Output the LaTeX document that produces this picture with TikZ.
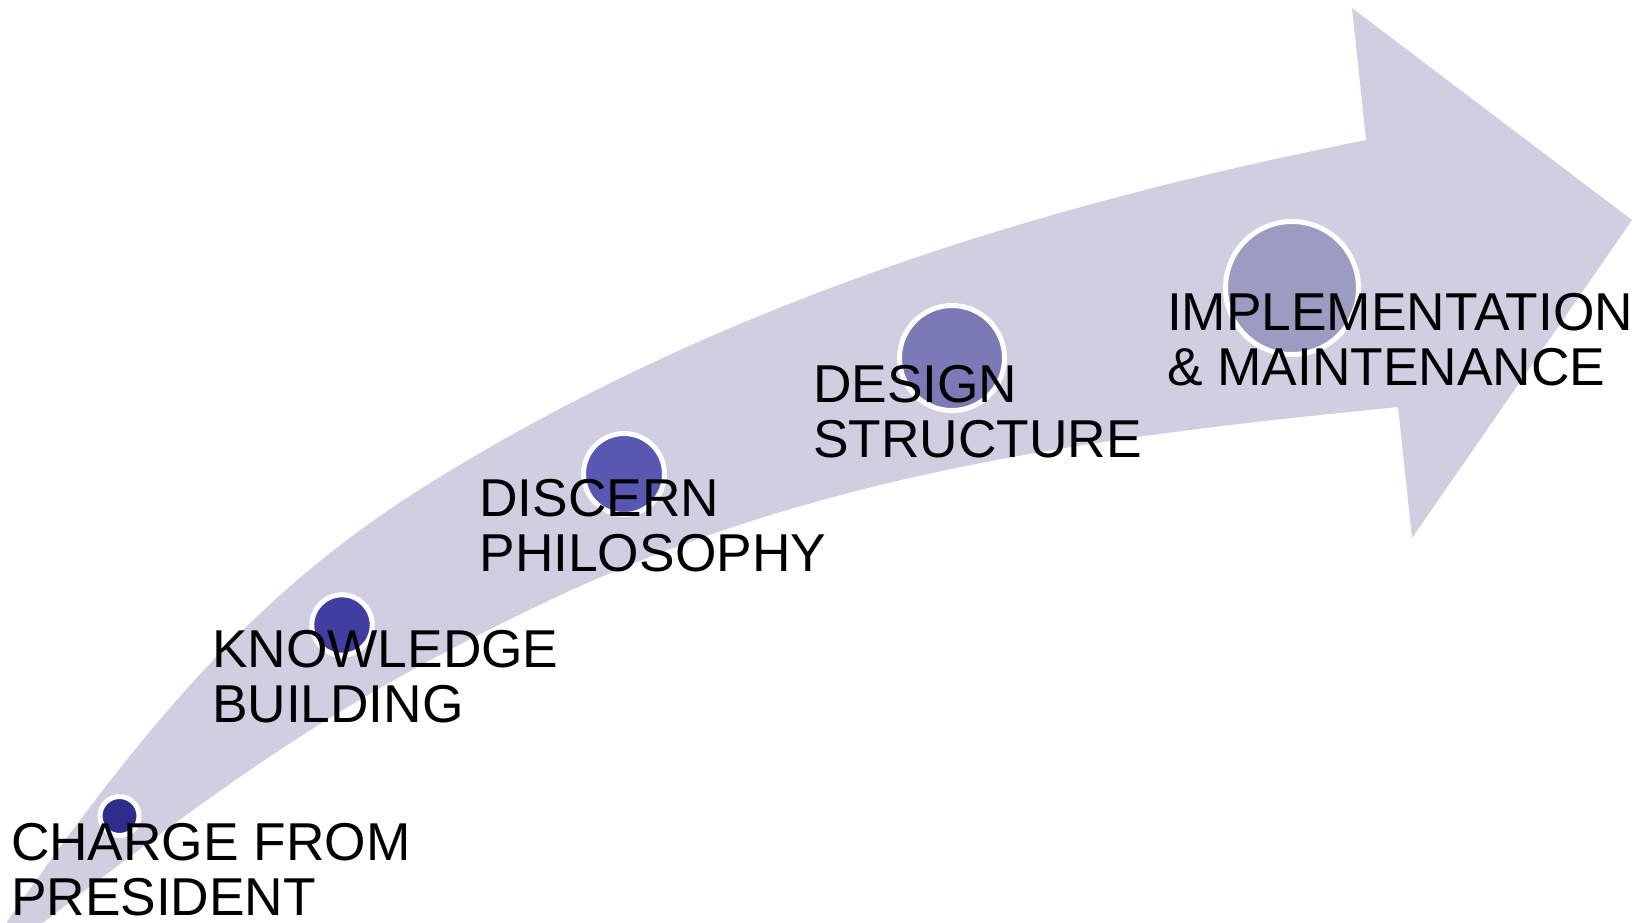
\documentclass[tikz,border=0pt]{standalone}
\usepackage{fontspec}
\setmainfont{Liberation Sans}
\definecolor{arrowc}{RGB}{207,207,225}
\definecolor{dotA}{RGB}{46,45,139}
\definecolor{dotB}{RGB}{64,62,160}
\definecolor{dotC}{RGB}{88,87,177}
\definecolor{dotD}{RGB}{123,122,182}
\definecolor{dotE}{RGB}{156,155,193}
\tikzset{
  dot/.style={circle, draw=white, line width=5pt, inner sep=0pt, outer sep=0pt},
  lbl/.style={anchor=north west, inner sep=0pt, outer sep=0pt, align=left,
    font=\fontsize{53.3}{55}\selectfont, text=black}
}
\begin{document}
\begin{tikzpicture}[x=1pt,y=-1pt]
\useasboundingbox (0,0) rectangle (1641,922);
\clip (0,0) rectangle (1641,922);
% curved arrow
\fill[arrowc] (-12,950) -- (7,922)
  .. controls (177,675.5) and (293,566.5) .. (443,475)
  .. controls (743,292) and (1066,200) .. (1366,140)
  -- (1352,8) -- (1632,220) -- (1412,538) -- (1398,407)
  .. controls (1118,435) and (830,467.6) .. (550,600)
  .. controls (350,694.6) and (244,768) .. (44,922)
  -- (8,950) -- cycle;
% dots
\node[dot, fill=dotA, minimum size=39pt] (c1) at (119.5,816) {};
\node[dot, fill=dotB, minimum size=60.4pt] (c2) at (342,625) {};
\node[dot, fill=dotC, minimum size=81pt] (c3) at (624,474) {};
\node[dot, fill=dotD, minimum size=105pt] (c4) at (952,358) {};
\node[dot, fill=dotE, minimum size=133pt] (c5) at (1292,288) {};
% labels
\node[lbl] (t1) at (11,822.9) {CHARGE FROM\\PRESIDENT};
\node[lbl] (t2) at (212,630.5) {KNOWLEDGE\\BUILDING};
\node[lbl] (t3) at (479.5,478.9) {DISCERN\\PHILOSOPHY};
\node[lbl] (t4) at (813,364.9) {DESIGN\\STRUCTURE};
\node[lbl] (t5) at (1167,292.9) {IMPLEMENTATION\\\& MAINTENANCE};
\end{tikzpicture}
\end{document}
